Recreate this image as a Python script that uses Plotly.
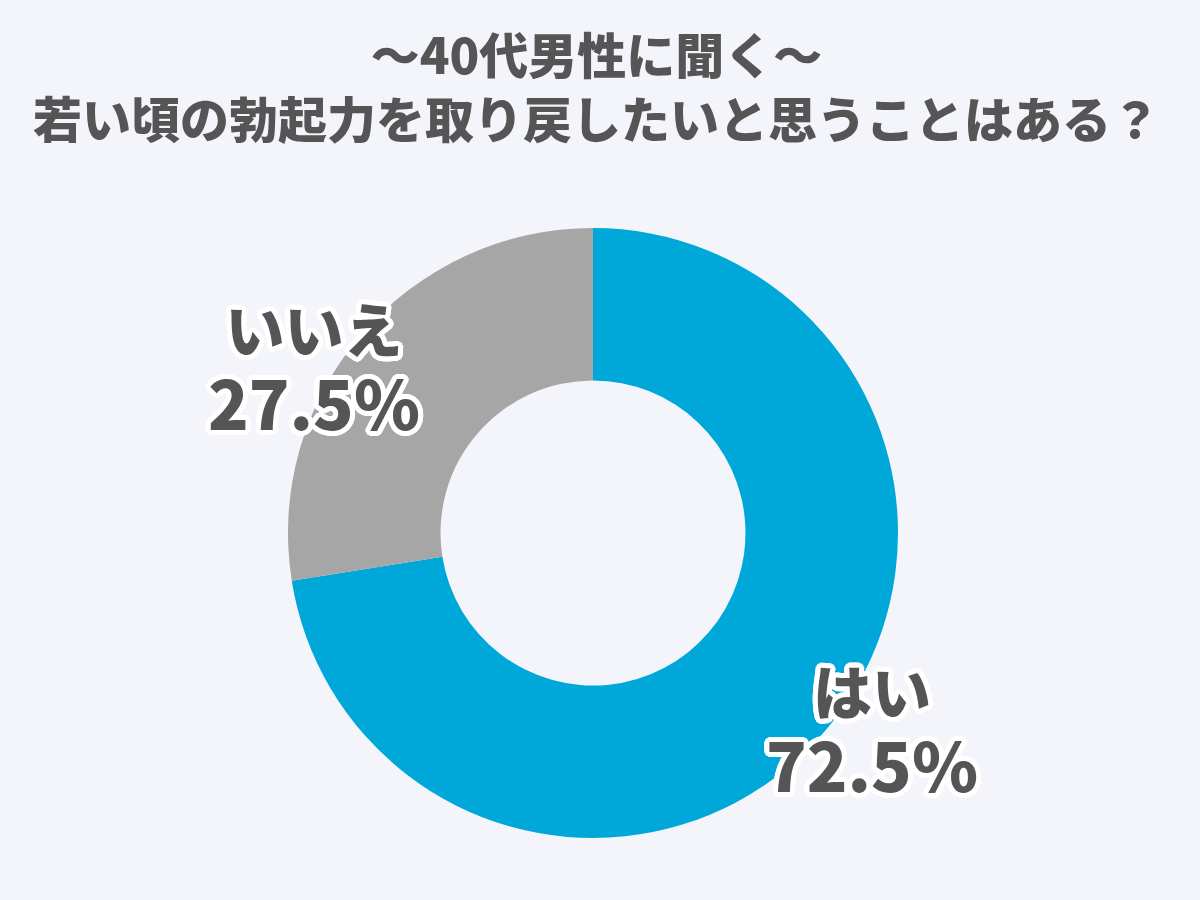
import plotly.graph_objects as go

labels = ["はい", "いいえ"]
values = [72.5, 27.5]
colors = ["#00a8d9", "#a6a6a6"]
title_lines = ["～40代男性に聞く～", "若い頃の勃起力を取り戻したいと思うことはある？"]

font_family = "Noto Sans CJK JP"
text_color = "#555555"
offsets = []
for dx in range(-5, 6):
    for dy in range(-5, 6):
        if 16 <= dx * dx + dy * dy <= 26:
            offsets.append((dx, dy))
outline = ", ".join(f"#ffffff {dx}px {dy}px 0px" for dx, dy in offsets)

fig = go.Figure()
fig.add_trace(go.Pie(
    labels=labels,
    values=values,
    hole=0.5,
    sort=False,
    direction="clockwise",
    rotation=0,
    marker=dict(colors=colors, line=dict(width=0)),
    textinfo="none",
    showlegend=False,
    domain=dict(x=[(593 - 305) / 1200, (593 + 305) / 1200],
                y=[(900 - 533 - 305) / 900, (900 - 533 + 305) / 900]),
))

# label block centres (paper coords) for each slice
label_pos = {"はい": (872 / 1200, 729), "いいえ": (314 / 1200, 367)}
for lab, val in zip(labels, values):
    x, yc = label_pos[lab]
    fig.add_annotation(x=x, y=1 - yc / 900, xref="paper", yref="paper",
                       text=f"{lab}<br><span style='font-size:67px'>{val}%</span>",
                       showarrow=False, xanchor="center", yanchor="middle", align="center",
                       font=dict(family=font_family, size=59, color=text_color, weight=900,
                                 shadow=outline))

fig.add_annotation(x=0.497, y=1 - 84 / 900, xref="paper", yref="paper",
                   text="<br>".join(title_lines), showarrow=False,
                   xanchor="center", yanchor="middle", align="center",
                   font=dict(family=font_family, size=49, color=text_color, weight=800))

fig.update_layout(
    width=1200, height=900,
    margin=dict(l=0, r=0, t=0, b=0),
    paper_bgcolor="#f3f5fa",
    plot_bgcolor="#f3f5fa",
)

fig.write_html("out.html")
